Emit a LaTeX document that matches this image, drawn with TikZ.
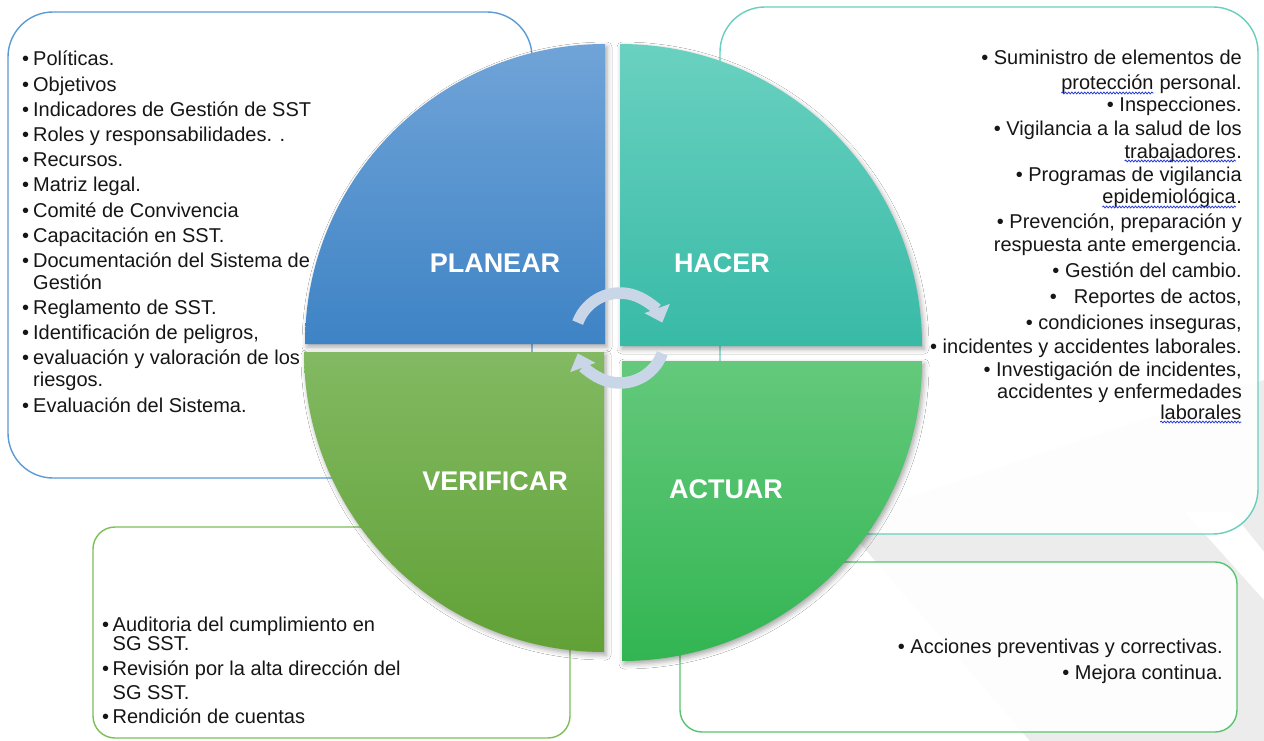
\documentclass[tikz,border=0pt]{standalone}
\usepackage{fontspec}
\setmainfont{Liberation Sans}
\usetikzlibrary{arrows.meta,shadows.blur,decorations.pathmorphing}
\definecolor{bBlue}{RGB}{91,155,213}
\definecolor{bTeal}{RGB}{104,206,190}
\definecolor{bGreenL}{RGB}{125,190,88}
\definecolor{bGreenR}{RGB}{88,196,112}
\definecolor{pTop}{RGB}{112,164,216}
\definecolor{pBot}{RGB}{62,131,197}
\definecolor{hTop}{RGB}{106,209,192}
\definecolor{hBot}{RGB}{56,186,167}
\definecolor{vTop}{RGB}{130,185,98}
\definecolor{vBot}{RGB}{97,161,54}
\definecolor{aTop}{RGB}{100,201,124}
\definecolor{aBot}{RGB}{50,181,82}
\definecolor{arrowFill}{RGB}{200,214,232}
\definecolor{bgGray}{RGB}{236,236,236}
\definecolor{squigBlue}{RGB}{40,60,220}
\definecolor{txt}{RGB}{22,22,22}
\newcommand\squig[1]{\tikz[baseline=(sq.base),x=1pt,y=1pt]{\node[anchor=base west,inner sep=0pt,outer sep=0pt] (sq) at (0,0) {#1};\draw[squigBlue,line width=0.8pt,decorate,decoration={snake,amplitude=0.9pt,segment length=3.2pt}] ([yshift=-3pt]sq.base west) -- ([yshift=-3pt]sq.base east);}}
\newcommand\bulA{\makebox[11pt][l]{•}}
\newcommand\bulB{\makebox[10.5pt][l]{•}}
\tikzset{
  box/.style={line width=1.4pt, fill=white, fill opacity=0.9, rounded corners=#1},
  quad/.style={blur shadow={shadow xshift=2pt,shadow yshift=-3pt,shadow blur radius=5pt,shadow opacity=35}},
  title/.style={font=\fontsize{27}{30}\selectfont\bfseries, text=white, inner sep=0pt},
  lstL/.style={font=\fontsize{20}{22}\selectfont, text=txt, inner sep=0pt, anchor=base west},
  lstR/.style={font=\fontsize{20}{22}\selectfont, text=txt, inner sep=0pt, anchor=base east},
  cyc/.style={draw=arrowFill, line width=11.5pt, -{Triangle[width=26pt,length=15pt]}}
}
\begin{document}
\begin{tikzpicture}[x=1pt,y=-1pt]
\useasboundingbox (0,0) rectangle (1264,741);
\fill[white] (0,0) rectangle (1264,741);
% background facets
\fill[bgGray] (840,520) -- (1264,380) -- (1264,741) -- (1030,741) -- cycle;
\fill[white] (1185,512) -- (1232,512) -- (1264,552) -- (1264,600) -- cycle;
% text boxes
\draw[box=45, draw=bBlue] (8,12) rectangle (532,478);
\draw[box=45, draw=bTeal] (720,7) rectangle (1258,534);
\draw[box=22, draw=bGreenL] (93,527) rectangle (570,738);
\draw[box=22, draw=bGreenR] (680,562) rectangle (1237,732);
% quadrants
\path[quad, top color=pTop, bottom color=pBot] (605,344) -- ++(180:300) arc[start angle=180,end angle=270,radius=300] -- cycle;
\path[quad, top color=hTop, bottom color=hBot] (620,346) -- ++(270:302) arc[start angle=270,end angle=360,radius=302] -- cycle;
\path[quad, top color=aTop, bottom color=aBot] (622,361) -- ++(0:300) arc[start angle=0,end angle=90,radius=300] -- cycle;
\path[quad, top color=vTop, bottom color=vBot] (604,352) -- ++(90:300) arc[start angle=90,end angle=180,radius=300] -- cycle;
% titles
\node[title] (tP) at (495,263) {PLANEAR};
\node[title] (tH) at (722,263) {HACER};
\node[title] (tV) at (495,481) {VERIFICAR};
\node[title] (tA) at (726,489) {ACTUAR};
% cycle arrows
\coordinate (cc) at (620,338);
\draw[cyc] (cc) ++(200:45) arc[start angle=200,end angle=340,radius=45];
\draw[cyc] (cc) ++(20:45) arc[start angle=20,end angle=160,radius=45];
% PLANEAR list
\node[lstL] (l1) at (22,66) {\bulA Políticas.};
\node[lstL] (l2) at (22,91.5) {\bulA Objetivos};
\node[lstL] (l3) at (22,117) {\bulA Indicadores de Gestión de SST};
\node[lstL] (l4) at (22,142) {\bulA Roles y responsabilidades. .};
\node[lstL] (l5) at (22,167) {\bulA Recursos.};
\node[lstL] (l6) at (22,192) {\bulA Matriz legal.};
\node[lstL] (l7) at (22,217.5) {\bulA Comité de Convivencia};
\node[lstL] (l8) at (22,242) {\bulA Capacitación en SST.};
\node[lstL] (l9) at (22,267.5) {\bulA Documentación del Sistema de};
\node[lstL] (l10) at (22,289) {\hspace*{11pt}Gestión};
\node[lstL] (l11) at (22,314) {\bulA Reglamento de SST.};
\node[lstL] (l12) at (22,339) {\bulA Identificación de peligros,};
\node[lstL] (l13) at (22,364) {\bulA evaluación y valoración de los};
\node[lstL] (l14) at (22,386) {\hspace*{11pt}riesgos.};
\node[lstL] (l15) at (22,412) {\bulA Evaluación del Sistema.};
% HACER list
\node[lstR] (r1) at (1242,65) {• Suministro de elementos de};
\node[lstR] (r2) at (1242,90) {\squig{protección} personal.};
\node[lstR] (r3) at (1242,112) {• Inspecciones.};
\node[lstR] (r4) at (1242,136) {• Vigilancia a la salud de los};
\node[lstR] (r5) at (1242,158) {\squig{trabajadores}.};
\node[lstR] (r6) at (1242,182) {• Programas de vigilancia};
\node[lstR] (r7) at (1242,204) {\squig{epidemiológica}.};
\node[lstR] (r8) at (1242,228) {• Prevención, preparación y};
\node[lstR] (r9) at (1242,251) {respuesta ante emergencia.};
\node[lstR] (r10) at (1242,277) {• Gestión del cambio.};
\node[lstR] (r11) at (1242,303) {•\hspace{17pt}Reportes de actos,};
\node[lstR] (r12) at (1242,329) {• condiciones inseguras,};
\node[lstR] (r13) at (1242,353) {• incidentes y accidentes laborales.};
\node[lstR] (r14) at (1242,376) {• Investigación de incidentes,};
\node[lstR] (r15) at (1242,398) {accidentes y enfermedades};
\node[lstR] (r16) at (1242,419) {\squig{laborales}};
% VERIFICAR list
\node[lstL] (v1) at (102,631.5) {\bulB Auditoria del cumplimiento en};
\node[lstL] (v2) at (102,650.5) {\hspace*{10.5pt}SG SST.};
\node[lstL] (v3) at (102,675.5) {\bulB Revisión por la alta dirección del};
\node[lstL] (v4) at (102,699) {\hspace*{10.5pt}SG SST.};
\node[lstL] (v5) at (102,723.5) {\bulB Rendición de cuentas};
% ACTUAR list
\node[lstR] (a1) at (1223,653.5) {• Acciones preventivas y correctivas.};
\node[lstR] (a2) at (1223,679) {• Mejora continua.};
\end{tikzpicture}
\end{document}
